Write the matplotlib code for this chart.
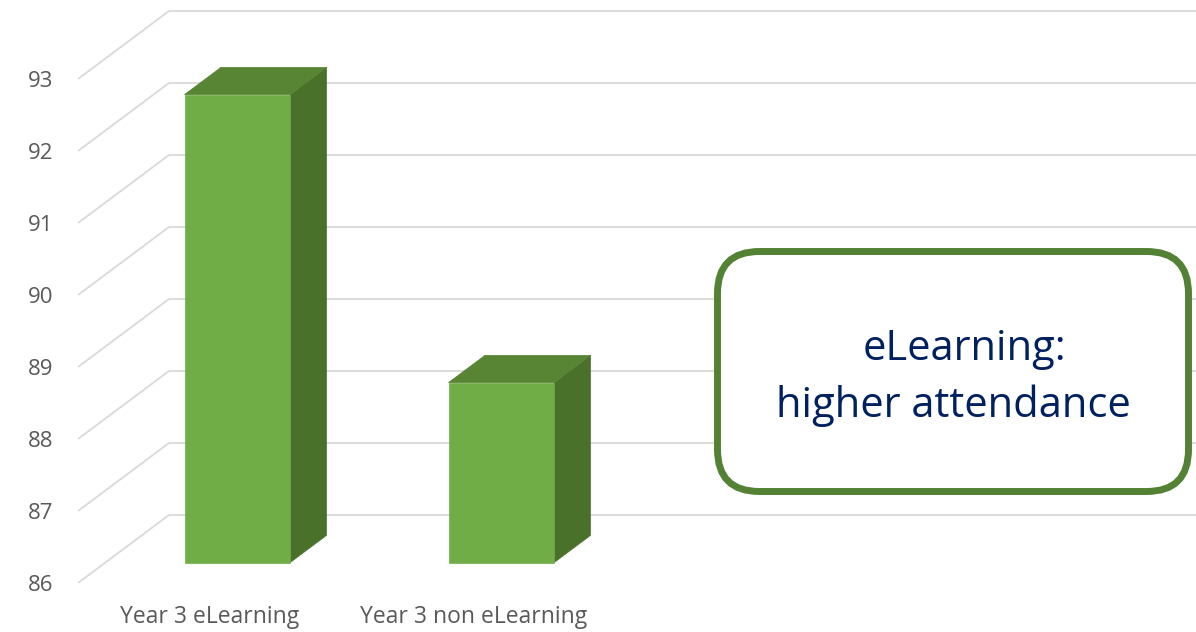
import matplotlib
matplotlib.use("Agg")
import matplotlib.pyplot as plt
from matplotlib.patches import Polygon, FancyBboxPatch

# data
categories = ["Year 3 eLearning", "Year 3 non eLearning"]
attendance = [92.5, 88.5]
yticks = [86, 87, 88, 89, 90, 91, 92, 93]

plt.rcParams['font.family'] = ['Open Sans', 'DejaVu Sans']

base = 86
# oblique 3d offsets for full depth (in data units)
dx = 91 / 264
dy = 68 / 72
d0, d1 = 0.3, 0.7
w = 0.2

def P(x, y, d):
    return (x + d * dx, y + d * dy)

fig = plt.figure(figsize=(11.96, 6.32), dpi=100)
ax = fig.add_axes([78 / 1196, 49 / 632, 1 - 78 / 1196, 583 / 632])
ax.set_xlim(-0.5, (1196 - 210) / 264)
ax.set_ylim(base, base + 583 / 72)

grid_col = '#d9d9d9'
xr = ax.get_xlim()[1]
for v in yticks:
    # side wall diagonal + back wall line
    ax.plot([-0.5, -0.5 + dx, xr], [v, v + dy, v + dy], color=grid_col,
            lw=1.3, zorder=1, solid_capstyle='butt')

front_col = '#70ad47'
top_col = '#578534'
side_col = '#4a7129'
for i, v in enumerate(attendance):
    c = i
    front = [P(c - w, base, d0), P(c + w, base, d0), P(c + w, v, d0), P(c - w, v, d0)]
    top = [P(c - w, v, d0), P(c + w, v, d0), P(c + w, v, d1), P(c - w, v, d1)]
    side = [P(c + w, base, d0), P(c + w, base, d1), P(c + w, v, d1), P(c + w, v, d0)]
    ax.add_patch(Polygon(side, closed=True, fc=side_col, ec=side_col, lw=0.5, zorder=3))
    ax.add_patch(Polygon(top, closed=True, fc=top_col, ec=top_col, lw=0.5, zorder=3))
    ax.add_patch(Polygon(front, closed=True, fc=front_col, ec=front_col, lw=0.5, zorder=4))

ax.set_yticks(yticks)
ax.set_yticklabels([str(t) for t in yticks], fontsize=16, color='#595959')
ax.set_xticks(range(len(categories)))
ax.set_xticklabels(categories, fontsize=16.5, color='#595959')
ax.tick_params(axis='y', length=0, pad=18)
ax.tick_params(axis='x', length=0, pad=16)
for s in ax.spines.values():
    s.set_visible(False)

# callout box
box = FancyBboxPatch((7.175, 1.405), 4.71, 2.40,
                     boxstyle="round,pad=0,rounding_size=0.42",
                     transform=fig.dpi_scale_trans, fc='white', ec='#548235',
                     lw=5, clip_on=False, zorder=5)
ax.add_patch(box)
fig.text(964.5 / 1196, 1 - 360 / 632, "eLearning:", ha='center', va='baseline',
         fontsize=30, color='#002060', zorder=6)
fig.text(953 / 1196, 1 - 417 / 632, "higher attendance", ha='center', va='baseline',
         fontsize=30, color='#002060', zorder=6)

fig.savefig("out.png", dpi=100)
